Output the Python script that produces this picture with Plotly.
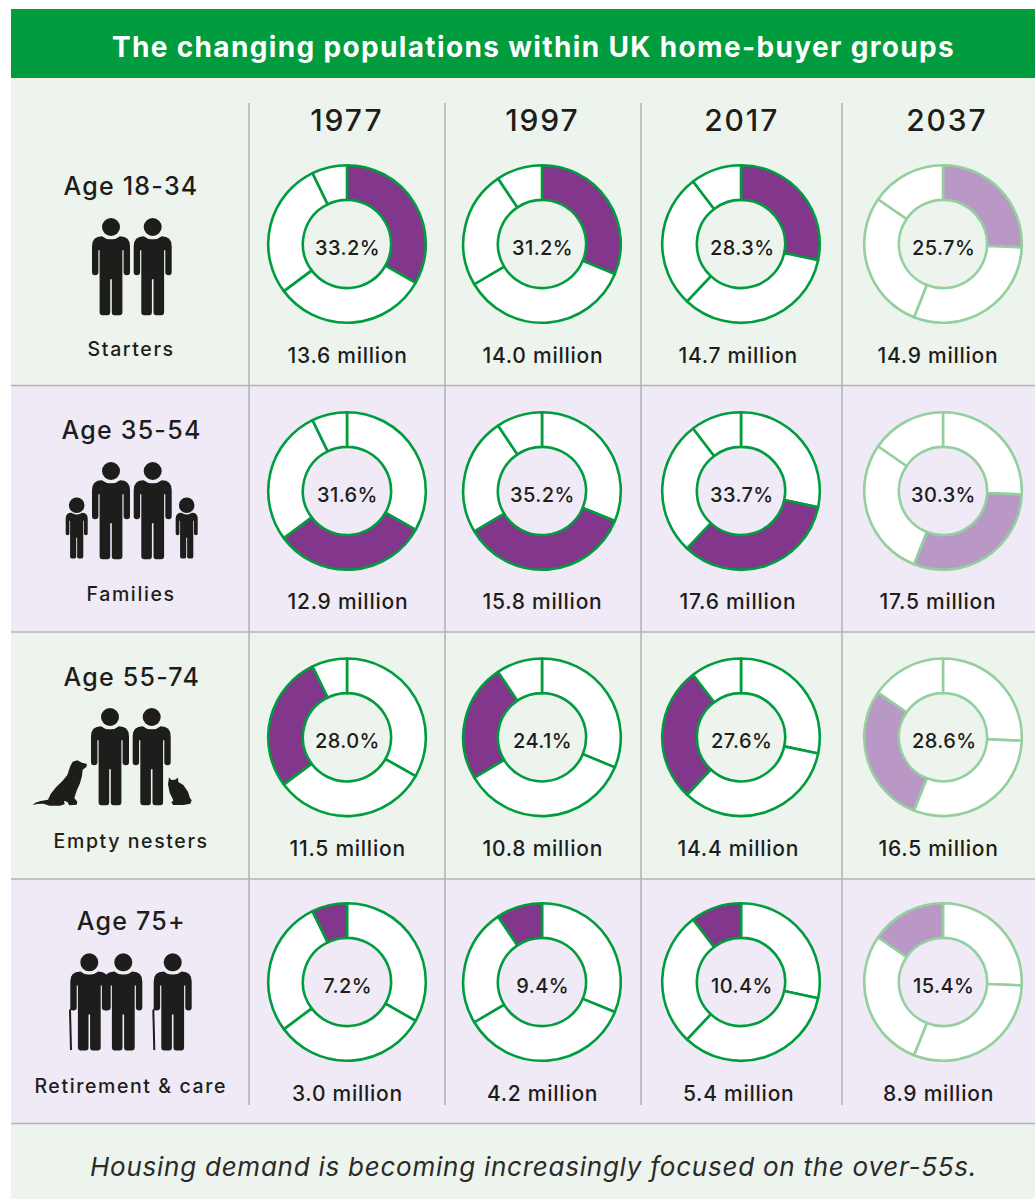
import json
import plotly.graph_objects as go

W, H = 1035, 1199
TITLE = "The changing populations within UK home-buyer groups"
FOOTER = "Housing demand is becoming increasingly focused on the over-55s."
years = ["1977", "1997", "2017", "2037"]
ages = ["Age 18-34", "Age 35-54", "Age 55-74", "Age 75+"]
groups = ["Starters", "Families", "Empty nesters", "Retirement & care"]

# share of population per year, in group order
share_1977 = [33.2, 31.6, 28.0, 7.2]
share_1997 = [31.2, 35.2, 24.1, 9.4]
share_2017 = [28.3, 33.7, 27.6, 10.4]
share_2037 = [25.7, 30.3, 28.6, 15.4]
shares = [share_1977, share_1997, share_2017, share_2037]

million_1977 = [13.6, 12.9, 11.5, 3.0]
million_1997 = [14.0, 15.8, 10.8, 4.2]
million_2017 = [14.7, 17.6, 14.4, 5.4]
million_2037 = [14.9, 17.5, 16.5, 8.9]
millions = [million_1977, million_1997, million_2017, million_2037]

# layout (pixels)
col_x = [347, 542, 741, 943]
row_y = [244, 491, 737.3, 982]
R = 78.8
HOLE = 0.56
INK = "#1d1d1b"
FONT = "Inter"
GREEN, GREEN_LT = "#009c3e", "#94cf9f"
PURPLE, PURPLE_LT = "#82368c", "#ba98c6"
BG_G, BG_P = "#edf4ed", "#efeaf5"
RULE = "#b4b4b4"

# font size -> letter spacing in px (the reference face is wider than Inter)
SP_TITLE, SP_FOOT, SP_YEAR, SP_AGE, SP_GROUP, SP_PCT, SP_MIL = 28, 26, 30, 25, 19.5, 20, 21
SPACING = {SP_TITLE: 1.35, SP_FOOT: 0.75, SP_YEAR: 1.9, SP_AGE: 1.25, SP_GROUP: 1.6, SP_PCT: 0.4, SP_MIL: 0.75}


def fx(x):
    return x / W


def fy(y):
    return 1 - y / H


fig = go.Figure()
shapes, annos = [], []


def rect(x0, y0, x1, y1, color):
    shapes.append(dict(type="rect", xref="paper", yref="paper", x0=fx(x0), x1=fx(x1),
                       y0=fy(y0), y1=fy(y1), fillcolor=color, line_width=0, layer="below"))


def line(x0, y0, x1, y1, color=RULE, width=1.6):
    shapes.append(dict(type="line", xref="paper", yref="paper", x0=fx(x0), x1=fx(x1),
                       y0=fy(y0), y1=fy(y1), line=dict(color=color, width=width), layer="below"))


def text(x, y, s, size, color=INK, weight=500, italic=False):
    annos.append(dict(xref="paper", yref="paper", x=fx(x), y=fy(y), text=s, showarrow=False,
                      xanchor="center", yanchor="middle",
                      font=dict(family=FONT, size=size, color=color, weight=weight,
                                style="italic" if italic else "normal")))


def path(cmds):
    """cmds: list of (letter, x, y, ...) in pixel coordinates."""
    out = []
    for c in cmds:
        vals = c[1:]
        pts = []
        for i in range(0, len(vals), 2):
            pts.append(f"{fx(vals[i]):.5f},{fy(vals[i + 1]):.5f}")
        out.append(c[0] + " ".join(pts))
    return " ".join(out) + " Z"


def fill_path(cmds, color=INK):
    shapes.append(dict(type="path", xref="paper", yref="paper", path=path(cmds),
                       fillcolor=color, line_width=0, layer="below"))


def head(cx, cy, r):
    shapes.append(dict(type="circle", xref="paper", yref="paper",
                       x0=fx(cx - r), x1=fx(cx + r), y0=fy(cy - r), y1=fy(cy + r),
                       fillcolor=INK, line_width=0, layer="below"))


def person(cx, cy, s=1.0, hr=9.0):
    """cx, cy: head centre; body built outward from the shoulder line."""
    top = cy + (9.2 if s == 1 else 7.4)

    def P(dx, dy):
        return cx + dx * s, top + dy * s

    head(cx, cy, hr)
    half = [
        ("Q", *P(4.5, 3.5), *P(9, 0)),
        ("Q", *P(19, 0), *P(19, 10)),
        ("L", *P(19, 36)),
        ("Q", *P(19, 39), *P(16, 39)),
        ("Q", *P(12.6, 39), *P(12.6, 36)),
        ("L", *P(12.6, 14)),
        ("L", *P(11.4, 14)),
        ("L", *P(11.4, 76)),
        ("Q", *P(11.4, 79), *P(8.5, 79)),
        ("L", *P(3.5, 79)),
        ("Q", *P(0.8, 79), *P(0.8, 76)),
        ("L", *P(0.8, 43)),
    ]
    left = [
        ("L", *P(-0.8, 43)),
        ("L", *P(-0.8, 76)),
        ("Q", *P(-0.8, 79), *P(-3.5, 79)),
        ("L", *P(-8.5, 79)),
        ("Q", *P(-11.4, 79), *P(-11.4, 76)),
        ("L", *P(-11.4, 14)),
        ("L", *P(-12.6, 14)),
        ("L", *P(-12.6, 36)),
        ("Q", *P(-12.6, 39), *P(-16, 39)),
        ("Q", *P(-19, 39), *P(-19, 36)),
        ("L", *P(-19, 10)),
        ("Q", *P(-19, 0), *P(-9, 0)),
        ("Q", *P(-4.5, 3.5), *P(0, 3)),
    ]
    fill_path([("M", *P(0, 3))] + half + left)


def cane(x, y_top, y_bot):
    line(x + 4, y_top, x, y_top + 3, INK, 1.8)
    line(x, y_top + 3, x + 1, y_bot, INK, 2.0)


def blob(pts, ox, oy):
    """Outline given in 3x crop coordinates."""
    cmds = [("M" if i == 0 else "L", ox + a / 3, oy + b / 3) for i, (a, b) in enumerate(pts)]
    fill_path(cmds)


DOG = [(38, 466), (46, 458), (62, 453), (84, 449), (92, 432), (108, 412), (128, 392), (142, 375),
       (150, 350), (158, 335), (172, 331), (186, 338), (201, 342), (199, 351), (188, 359), (186, 378),
       (180, 400), (170, 422), (163, 444), (172, 455), (170, 464), (148, 466), (142, 456),
       (132, 452), (134, 463), (120, 467), (88, 467), (70, 461), (50, 462)]
CAT = [(447, 382), (454, 390), (465, 389), (474, 383), (475, 396), (490, 405), (504, 425),
       (510, 444), (515, 451), (511, 461), (490, 465), (460, 465), (454, 458), (460, 451),
       (449, 428), (444, 403)]

# backgrounds
rect(11, 78, W, 386, BG_G)
rect(11, 386, W, 632, BG_P)
rect(11, 632, W, 879, BG_G)
rect(11, 879, W, 1124, BG_P)
rect(11, 1124, W, 1199, BG_G)
rect(11, 9, W, 78, GREEN)

for x in [249, 445, 641, 842]:
    line(x, 103, x, 1105)
for y in [385.5, 632, 879, 1123.5]:
    line(11, y, W, y)

# icons
for x in (111, 152.7):
    person(x, 227)
for x in (111, 152.7):
    person(x, 471)
for x in (76.7, 186.7):
    person(x, 505.3, 0.58, 7.8)
for x in (110, 151.7):
    person(x, 717)
blob(DOG, 20, 650)
blob(CAT, 20, 650)
person(123.3, 962.3)
person(89.3, 962.3)
person(172.7, 962.3)
cane(70, 1007, 1050)
cane(153.3, 1007, 1050)

# text
text(533.5, 46.5, TITLE, SP_TITLE, "#ffffff", weight=700)
text(533, 1166, FOOTER, SP_FOOT, "#2a2a28", weight=400, italic=True)
header_x = [347, 542, 741, 947]
for x, y in zip(header_x, years):
    text(x, 120, y, SP_YEAR)
age_y = [186, 430, 677, 921]
grp_y = [349, 594, 841, 1086]
mil_y = [355.5, 601.5, 848.5, 1093.5]
mil_x = [347.5, 542.5, 738, 938]
for i in range(4):
    text(131, age_y[i], ages[i], SP_AGE)
    text(130.5, grp_y[i], groups[i], SP_GROUP)

# donuts
for c in range(4):
    dark = c < 3
    edge = GREEN if dark else GREEN_LT
    hi = PURPLE if dark else PURPLE_LT
    for r in range(4):
        cx, cy = col_x[c], row_y[r]
        colors = [hi if k == r else "#ffffff" for k in range(4)]
        fig.add_trace(go.Pie(
            values=shares[c], labels=ages, sort=False, direction="clockwise", rotation=0,
            hole=HOLE, textinfo="none", showlegend=False,
            marker=dict(colors=colors, line=dict(color=edge, width=2.6)),
            domain=dict(x=[fx(cx - R), fx(cx + R)], y=[fy(cy + R), fy(cy - R)]),
        ))
        text(cx + 0.5, cy + 4, f"{shares[c][r]:.1f}%", SP_PCT)
        text(mil_x[c], mil_y[r], f"{millions[c][r]:.1f} million", SP_MIL)

fig.update_layout(width=W, height=H, margin=dict(l=0, r=0, t=0, b=0), autosize=False,
                  paper_bgcolor="#ffffff", plot_bgcolor="#ffffff",
                  shapes=shapes, annotations=annos, showlegend=False)
js = (
    "document.body.style.margin='0';document.body.style.overflow='hidden';"
    "var sp=" + json.dumps({str(k): v for k, v in SPACING.items()}) + ";"
    "document.querySelectorAll('.annotation-text').forEach(function(t){"
    "var s=parseFloat(t.style.fontSize);if(sp[String(s)]!==undefined){t.style.letterSpacing=sp[String(s)]+'px';}});"
)
fig.write_html("out.html", config=dict(displayModeBar=False), post_script=js)
